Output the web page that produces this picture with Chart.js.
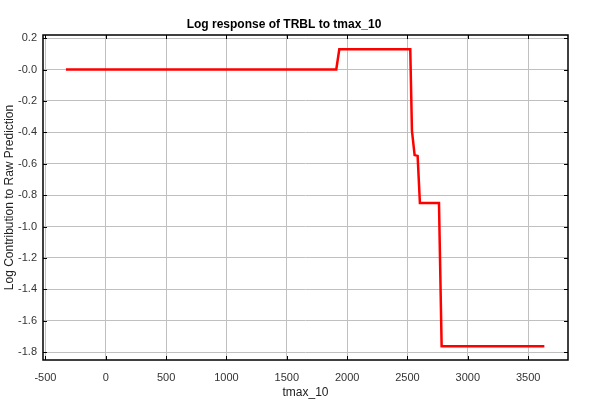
<!DOCTYPE html>
<html>
<head>
<meta charset="utf-8">
<script src="https://cdn.jsdelivr.net/npm/chart.js@4/dist/chart.umd.min.js"></script>
<style>
  html, body { margin: 0; padding: 0; background: #fff; }
  canvas { display: block; }
</style>
</head>
<body>
<canvas id="c" width="600" height="400"></canvas>
<script>
const chartTitle = "Log response of TRBL to tmax_10";
const xAxisTitle = "tmax_10";
const yAxisTitle = "Log Contribution to Raw Prediction";

const tmaxValues = [-330, 1910, 1935, 2523, 2537, 2559, 2584, 2603, 2761, 2783, 3634];
const responseValues = [0, 0, 0.129, 0.129, -0.39, -0.545, -0.55, -0.85, -0.85, -1.762, -1.762];

const xTicks = [-500, 0, 500, 1000, 1500, 2000, 2500, 3000, 3500];
const xTickLabels = ["-500", "0", "500", "1000", "1500", "2000", "2500", "3000", "3500"];
const yTicks = [0.2, 0, -0.2, -0.4, -0.6, -0.8, -1.0, -1.2, -1.4, -1.6, -1.8];
const yTickLabels = ["0.2", "-0.0", "-0.2", "-0.4", "-0.6", "-0.8", "-1.0", "-1.2", "-1.4", "-1.6", "-1.8"];

const points = tmaxValues.map((x, i) => ({ x: x, y: responseValues[i] }));

const FONT = "'Liberation Sans', Arial, Helvetica, sans-serif";

const framePlugin = {
  id: 'frame',
  beforeDraw(chart) {
    const ctx = chart.ctx;
    ctx.save();
    ctx.fillStyle = '#fff';
    ctx.fillRect(0, 0, chart.width, chart.height);
    ctx.restore();
  },
  afterDatasetsDraw(chart) {
    const ctx = chart.ctx;
    const a = chart.chartArea;
    const xs = chart.scales.x, ys = chart.scales.y;
    const len = 4;
    ctx.save();
    ctx.strokeStyle = '#000';
    ctx.lineWidth = 1;
    ctx.beginPath();
    xTicks.forEach(v => {
      const px = Math.round(xs.getPixelForValue(v)) + 0.5;
      ctx.moveTo(px, a.bottom); ctx.lineTo(px, a.bottom - len);
      ctx.moveTo(px, a.top); ctx.lineTo(px, a.top + len);
    });
    yTicks.forEach(v => {
      const py = Math.round(ys.getPixelForValue(v)) + 0.5;
      ctx.moveTo(a.left, py); ctx.lineTo(a.left + len, py);
      ctx.moveTo(a.right, py); ctx.lineTo(a.right - len, py);
    });
    ctx.stroke();
    ctx.lineWidth = 1.5;
    ctx.strokeRect(a.left, a.top, a.right - a.left, a.bottom - a.top);
    ctx.restore();
  }
};

new Chart(document.getElementById('c'), {
  type: 'scatter',
  data: {
    datasets: [{
      data: points,
      showLine: true,
      borderColor: '#ff0000',
      backgroundColor: '#ff0000',
      borderWidth: 2.5,
      pointRadius: 0,
      tension: 0
    }]
  },
  options: {
    responsive: false,
    animation: false,
    devicePixelRatio: 1,
    layout: { padding: { left: 0, right: 32, top: 0, bottom: 0 } },
    plugins: {
      legend: { display: false },
      tooltip: { enabled: false },
      title: {
        display: true,
        text: chartTitle,
        color: '#000',
        font: { family: FONT, size: 12, weight: 'bold' },
        padding: { top: 17, bottom: 3.6 }
      }
    },
    scales: {
      x: {
        type: 'linear',
        min: -520,
        max: 3830,
        afterBuildTicks: s => { s.ticks = xTicks.map(v => ({ value: v })); },
        afterFit: s => { s.height = 40; },
        ticks: {
          callback: (v, i) => xTickLabels[i],
          color: '#333',
          font: { family: FONT, size: 11 },
          padding: 11,
          maxRotation: 0,
          autoSkip: false
        },
        grid: { color: '#c0c0c0', lineWidth: 1, drawTicks: false },
        border: { display: false },
        title: {
          display: true,
          text: xAxisTitle,
          color: '#222',
          font: { family: FONT, size: 12 },
          padding: { top: 3, bottom: 0 }
        }
      },
      y: {
        type: 'linear',
        min: -1.85,
        max: 0.22,
        afterBuildTicks: s => { s.ticks = yTicks.map(v => ({ value: v })); },
        afterFit: s => { s.width = 43; },
        ticks: {
          callback: (v, i) => yTickLabels[i],
          color: '#333',
          font: { family: FONT, size: 11 },
          padding: 6,
          autoSkip: false
        },
        grid: { color: '#c0c0c0', lineWidth: 1, drawTicks: false },
        border: { display: false },
        title: {
          display: true,
          text: yAxisTitle,
          color: '#222',
          font: { family: FONT, size: 12 },
          padding: { top: 2, bottom: 0 }
        }
      }
    }
  },
  plugins: [framePlugin]
});
</script>
</body>
</html>
